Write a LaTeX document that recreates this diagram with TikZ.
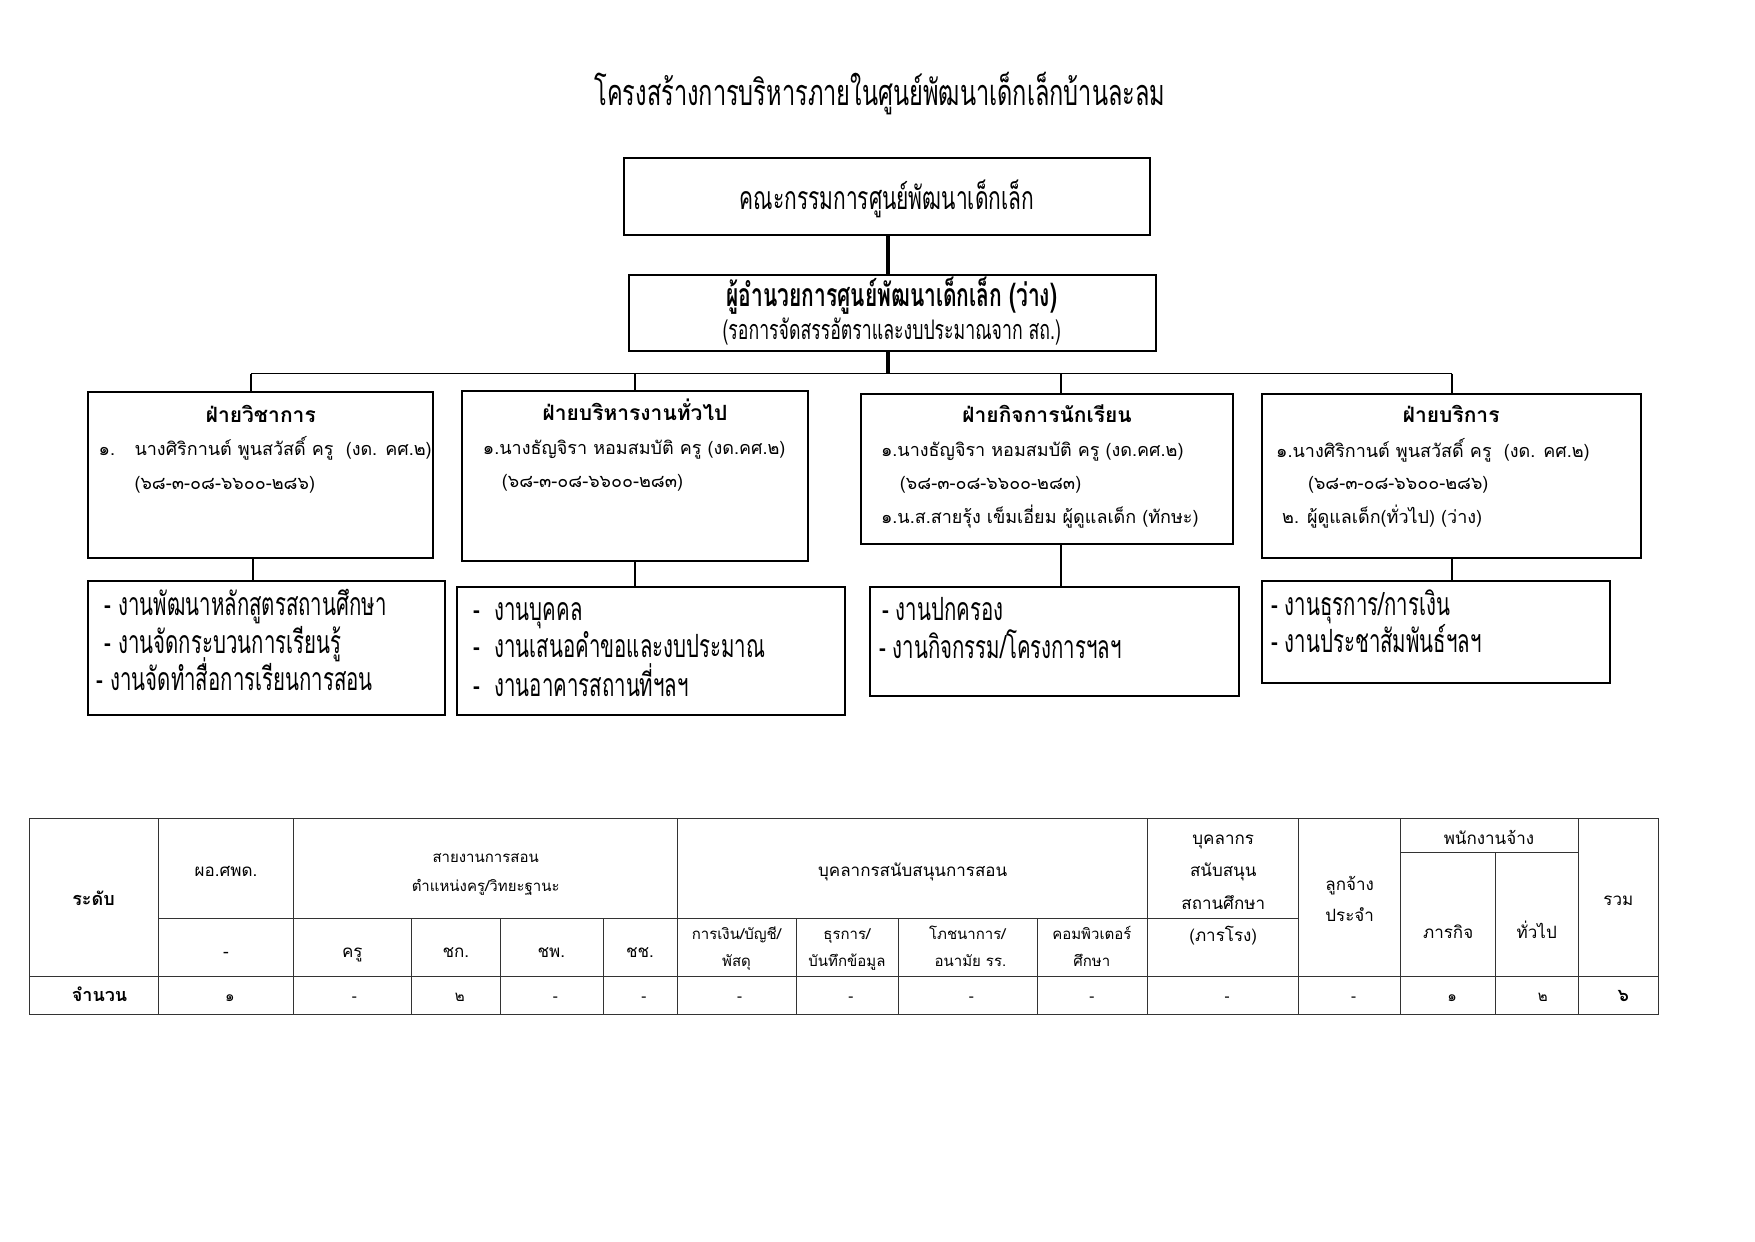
\documentclass[tikz,border=0pt]{standalone}
\usepackage{fontspec}
\newfontfamily\thai[Script=Thai]{Loma}
\newfontfamily\thaic[Script=Thai,FakeStretch=0.655]{Loma}
\newfontfamily\thaiw[Script=Thai,FakeStretch=0.638]{Loma}
\begin{document}
\begin{tikzpicture}[x=0.9953pt,y=-0.996pt,
  tx/.style={inner sep=0pt, text height=0.55em, text depth=0pt},
  box/.style={draw, line width=2pt, inner sep=0pt},
  conn/.style={line width=1.8pt},
  ftitle/.style={font=\thaic\fontsize{36}{40}\selectfont, yshift=-11pt},
  fbig/.style={font=\thaic\fontsize{32}{36}\selectfont, yshift=-8pt},
  fbigb/.style={font=\thaic\bfseries\fontsize{32}{36}\selectfont, yshift=-7pt},
  fsub/.style={font=\thaic\fontsize{27}{30}\selectfont, yshift=-5.5pt},
  fhead/.style={font=\thai\bfseries\fontsize{21}{24}\selectfont, yshift=-4.5pt},
  fbody/.style={font=\thai\fontsize{18}{22}\selectfont, yshift=-2.5pt},
  fwork/.style={font=\thaiw\fontsize{32}{36}\selectfont, yshift=-6.5pt},
  ftab/.style={font=\thai\fontsize{17}{20}\selectfont, yshift=-3pt},
  ftabs/.style={font=\thai\fontsize{15}{18}\selectfont, yshift=-3pt},
  ftabb/.style={font=\thai\bfseries\fontsize{18}{21}\selectfont, yshift=-3pt},
  grid/.style={line width=1pt, black!80}
]
\useasboundingbox (0,0) rectangle (1763.3,1246);
\fill[white] (0,0) rectangle (1763.3,1246);

% title
\node[tx, ftitle] (title) at (884,92) {โครงสร้างการบริหารภายในศูนย์พัฒนาเด็กเล็กบ้านละลม};

% top boxes
\node[box, minimum width=526pt, minimum height=77pt] (b1) at (891,197.5) {};
\node[tx, fbig] (b1t) at (891,200) {คณะกรรมการศูนย์พัฒนาเด็กเล็ก};
\node[box, minimum width=527pt, minimum height=76pt] (b2) at (896.5,314) {};
\node[tx, fbigb] (b2t) at (896,298) {ผู้อำนวยการศูนย์พัฒนาเด็กเล็ก (ว่าง)};
\node[tx, fsub] (b2s) at (896,333) {(รอการจัดสรรอัตราและงบประมาณจาก สถ.)};

% division boxes
\node[box, minimum width=345pt, minimum height=166pt] (A) at (261.5,477) {};
\node[box, minimum width=346pt, minimum height=170pt] (B) at (638,478) {};
\node[box, minimum width=372pt, minimum height=150pt] (C) at (1052,471) {};
\node[box, minimum width=379pt, minimum height=164pt] (D) at (1458.5,478) {};

\node[tx, fhead] (Ah) at (262,417) {ฝ่ายวิชาการ};
\node[tx, fbody, anchor=west] (A1n) at (99,452) {๑.};
\node[tx, fbody, anchor=west] (A1) at (135,452) {นางศิริกานต์ พูนสวัสดิ์ ครู~ (งด. คศ.๒)};
\node[tx, fbody, anchor=west] (A2) at (135,486) {(๖๘-๓-๐๘-๖๖๐๐-๒๘๖)};

\node[tx, fhead] (Bh) at (638,415) {ฝ่ายบริหารงานทั่วไป};
\node[tx, fbody, anchor=west] (B1) at (485,451) {๑.นางธัญจิรา หอมสมบัติ ครู (งด.คศ.๒)};
\node[tx, fbody, anchor=west] (B2) at (504,484) {(๖๘-๓-๐๘-๖๖๐๐-๒๘๓)};

\node[tx, fhead] (Ch) at (1052,417) {ฝ่ายกิจการนักเรียน};
\node[tx, fbody, anchor=west] (C1) at (885,453) {๑.นางธัญจิรา หอมสมบัติ ครู (งด.คศ.๒)};
\node[tx, fbody, anchor=west] (C2) at (904,486) {(๖๘-๓-๐๘-๖๖๐๐-๒๘๓)};
\node[tx, fbody, anchor=west] (C3) at (885,520) {๑.น.ส.สายรุ้ง เข็มเอี่ยม ผู้ดูแลเด็ก (ทักษะ)};

\node[tx, fhead] (Dh) at (1458,417) {ฝ่ายบริการ};
\node[tx, fbody, anchor=west] (D1) at (1282,454) {๑.นางศิริกานต์ พูนสวัสดิ์ ครู~ (งด. คศ.๒)};
\node[tx, fbody, anchor=west] (D2) at (1314,486) {(๖๘-๓-๐๘-๖๖๐๐-๒๘๖)};
\node[tx, fbody, anchor=west] (D3) at (1288,520) {๒. ผู้ดูแลเด็ก(ทั่วไป) (ว่าง)};

% work boxes
\node[box, minimum width=357pt, minimum height=134pt] (As) at (267.5,651) {};
\node[box, minimum width=388pt, minimum height=128pt] (Bs) at (654,654) {};
\node[box, minimum width=369pt, minimum height=109pt] (Cs) at (1059.5,644.5) {};
\node[box, minimum width=348pt, minimum height=102pt] (Ds) at (1443,635) {};

\node[tx, fwork, anchor=west] (As1) at (105,609) {- งานพัฒนาหลักสูตรสถานศึกษา};
\node[tx, fwork, anchor=west] (As2) at (105,647) {- งานจัดกระบวนการเรียนรู้};
\node[tx, fwork, anchor=west] (As3) at (97,684) {- งานจัดทำสื่อการเรียนการสอน};
\node[tx, fwork, anchor=west] (Bs1) at (476,614) {-~ งานบุคคล};
\node[tx, fwork, anchor=west] (Bs2) at (476,651) {-~ งานเสนอคำขอและงบประมาณ};
\node[tx, fwork, anchor=west] (Bs3) at (476,690) {-~ งานอาคารสถานที่ฯลฯ};
\node[tx, fwork, anchor=west] (Cs1) at (886,614) {- งานปกครอง};
\node[tx, fwork, anchor=west] (Cs2) at (883,652) {- งานกิจกรรม/โครงการฯลฯ};
\node[tx, fwork, anchor=west] (Ds1) at (1277,609) {- งานธุรการ/การเงิน};
\node[tx, fwork, anchor=west] (Ds2) at (1277,646) {- งานประชาสัมพันธ์ฯลฯ};

% connectors
\coordinate (busL) at (252,375);
\coordinate (busR) at (1459,375);
\coordinate (xA) at (252,0);
\coordinate (xA2) at (254,0);
\coordinate (xB) at (638,0);
\coordinate (xC) at (1066,0);
\coordinate (xD) at (1459,0);
\coordinate (xT) at (892,0);
\draw[line width=3.5pt] (b1.south -| xT) -- (b2.north -| xT);
\draw[line width=3.5pt] (b2.south -| xT) -- (busL -| xT);
\draw[conn] (busL) -- (busR);
\draw[conn] (busL) -- (A.north -| xA);
\draw[conn] (busL -| xB) -- (B.north -| xB);
\draw[conn] (busL -| xC) -- (C.north -| xC);
\draw[conn] (busR) -- (D.north -| xD);
\draw[conn] (A.south -| xA2) -- (As.north -| xA2);
\draw[conn] (B.south -| xB) -- (Bs.north -| xB);
\draw[conn] (C.south -| xC) -- (Cs.north -| xC);
\draw[conn] (D.south -| xD) -- (Ds.north -| xD);

% table grid
\draw[grid] (30,822) rectangle (1666,1019);
\draw[grid] (30,980) -- (1666,980);
\draw[grid] (159,922) -- (1305,922);
\draw[grid] (1407,856) -- (1586,856);
\foreach \x in {159,295,681,1153,1305,1407,1586} \draw[grid] (\x,822) -- (\x,1019);
\foreach \x in {413,503,606,800,903,1042} \draw[grid] (\x,922) -- (\x,1019);
\draw[grid] (1503,856) -- (1503,1019);

% table texts
\node[tx, ftabb] (h0) at (94,903) {ระดับ};
\node[tx, ftab] (h1) at (227,874) {ผอ.ศพด.};
\node[tx, ftabs] (h2a) at (488,860) {สายงานการสอน};
\node[tx, ftabs] (h2b) at (488,889) {ตำแหน่งครู/วิทยะฐานะ};
\node[tx, ftab] (h3) at (917,874) {บุคลากรสนับสนุนการสอน};
\node[tx, ftab] (h4a) at (1229,842) {บุคลากร};
\node[tx, ftab] (h4b) at (1229,874) {สนับสนุน};
\node[tx, ftab] (h4c) at (1229,907) {สถานศึกษา};
\node[tx, ftab] (h4d) at (1229,940) {(ภารโรง)};
\node[tx, ftab] (h5a) at (1356,888) {ลูกจ้าง};
\node[tx, ftab] (h5b) at (1356,919) {ประจำ};
\node[tx, ftab] (h6) at (1496,842) {พนักงานจ้าง};
\node[tx, ftab] (h6a) at (1455,936) {ภารกิจ};
\node[tx, ftab] (h6b) at (1544,936) {ทั่วไป};
\node[tx, ftab] (h7) at (1626,903) {รวม};

\node[tx, ftab] (s1) at (227,956) {-};
\node[tx, ftab] (s2) at (354,956) {ครู};
\node[tx, ftab] (s3) at (458,956) {ชก.};
\node[tx, ftab] (s4) at (554,956) {ชพ.};
\node[tx, ftab] (s5) at (643,956) {ชช.};
\node[tx, ftabs] (s6a) at (740,937) {การเงิน/บัญชี/};
\node[tx, ftabs] (s6b) at (740,965) {พัสดุ};
\node[tx, ftabs] (s7a) at (851,937) {ธุรการ/};
\node[tx, ftabs] (s7b) at (851,965) {บันทึกข้อมูล};
\node[tx, ftabs] (s8a) at (972,937) {โภชนาการ/};
\node[tx, ftabs] (s8b) at (975,965) {อนามัย รร.};
\node[tx, ftabs] (s9a) at (1097,937) {คอมพิวเตอร์};
\node[tx, ftabs] (s9b) at (1097,965) {ศึกษา};

\node[tx, ftabb] (r0) at (100,1000) {จำนวน};
\node[tx, ftabs] (r1) at (231,1000) {๑};
\node[tx, ftabs] (r2) at (356,1000) {-};
\node[tx, ftabs] (r3) at (462,1000) {๒};
\node[tx, ftabs] (r4) at (558,1000) {-};
\node[tx, ftabs] (r5) at (647,1000) {-};
\node[tx, ftabs] (r6) at (743,1000) {-};
\node[tx, ftabs] (r7) at (855,1000) {-};
\node[tx, ftabs] (r8) at (976,1000) {-};
\node[tx, ftabs] (r9) at (1097,1000) {-};
\node[tx, ftabs] (r10) at (1233,1000) {-};
\node[tx, ftabs] (r11) at (1360,1000) {-};
\node[tx, ftabs] (r12) at (1459,1000) {๑};
\node[tx, ftabs] (r13) at (1550,1000) {๒};
\node[tx, ftabb] (r14) at (1631,1000) {๖};
\end{tikzpicture}
\end{document}
